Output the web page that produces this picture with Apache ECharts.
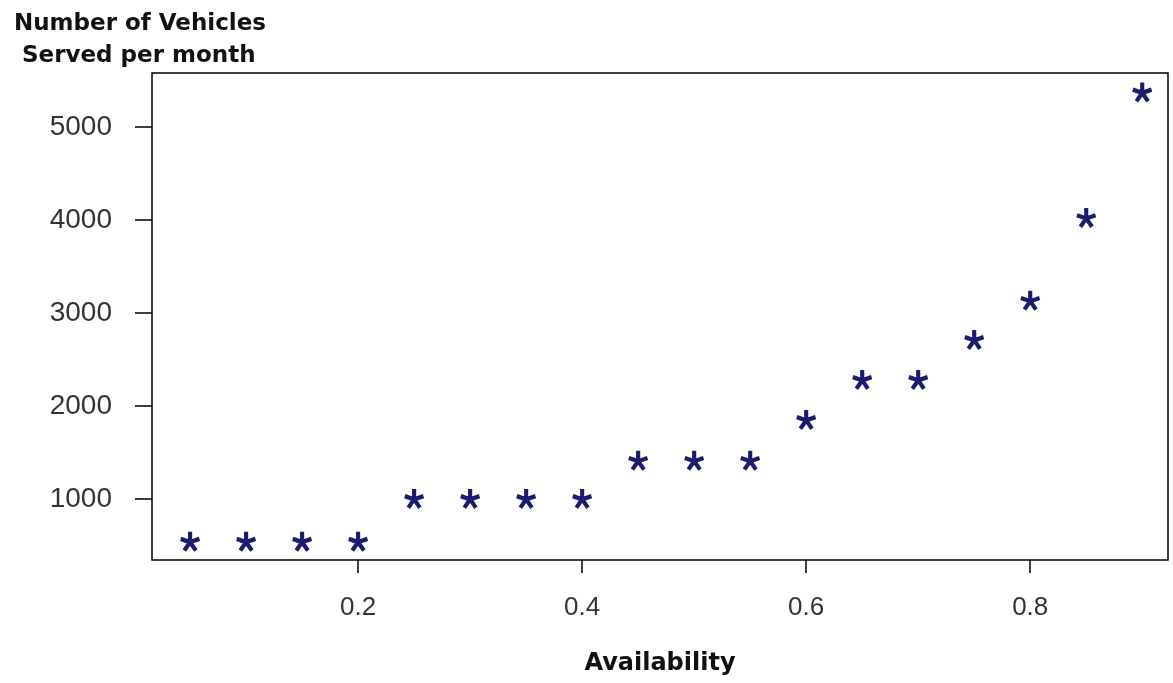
<!DOCTYPE html>
<html>
<head>
<meta charset="utf-8">
<script src="https://cdn.jsdelivr.net/npm/echarts@6/dist/echarts.min.js"></script>
<style>
  html, body { margin: 0; padding: 0; background: #fff; }
  #main { width: 1173px; height: 683px; }
</style>
</head>
<body>
<div id="main"></div>
<script>
// availability values and vehicles served per month
var availability = [0.05, 0.10, 0.15, 0.20, 0.25, 0.30, 0.35, 0.40, 0.45, 0.50, 0.55, 0.60, 0.65, 0.70, 0.75, 0.80, 0.85, 0.90];
var vehicles = [540, 540, 540, 540, 1000, 1000, 1000, 1000, 1410, 1410, 1410, 1850, 2280, 2280, 2710, 3130, 4020, 5370];
var xTicks = [0.2, 0.4, 0.6, 0.8];
var yTicks = [1000, 2000, 3000, 4000, 5000];

// five-armed asterisk used as marker
function asteriskPath() {
    var w = 2.1, L = 10, s = '';
    for (var k = 0; k < 5; k++) {
        var a = (-90 + k * 72) * Math.PI / 180;
        var c = Math.cos(a), sn = Math.sin(a);
        var px = -sn * w, py = c * w;
        var pts = [
            [px, py], [px + c * L, py + sn * L],
            [-px + c * L, -py + sn * L], [-px, -py]
        ];
        s += 'M' + pts.map(function (p) { return (p[0] + 10).toFixed(2) + ' ' + (p[1] + 10).toFixed(2); }).join(' L') + ' Z ';
    }
    return 'path://' + s;
}

var chart = echarts.init(document.getElementById('main'));
var data = availability.map(function (x, i) { return [x, vehicles[i]]; });

chart.setOption({
    animation: false,
    textStyle: { fontFamily: 'Liberation Sans, Arial, sans-serif' },
    title: {
        text: 'Number of Vehicles\n Served per month',
        left: 9, top: 3,
        textStyle: { fontSize: 23, fontWeight: 'bold', color: '#111', lineHeight: 32, fontFamily: 'DejaVu Sans' }
    },
    grid: {
        left: 152, right: 5, top: 73, bottom: 123,
        outerBoundsMode: 'none',
        show: true, borderColor: '#000', borderWidth: 1.5, backgroundColor: 'transparent'
    },
    xAxis: {
        type: 'value',
        min: 0.016, max: 0.923,
        name: 'Availability',
        nameLocation: 'middle',
        nameGap: 92,
        nameTextStyle: { fontSize: 24, fontWeight: 'bold', color: '#111', fontFamily: 'DejaVu Sans' },
        axisLine: { show: false },
        splitLine: { show: false },
        axisTick: { show: true, length: 13, customValues: xTicks, lineStyle: { color: '#000', width: 1.5 } },
        axisLabel: { customValues: xTicks, fontSize: 26, color: '#333', margin: 35,
            formatter: function (v) { return v.toFixed(1); } }
    },
    yAxis: {
        type: 'value',
        min: 344, max: 5580,
        axisLine: { show: false },
        splitLine: { show: false },
        axisTick: { show: true, length: 17, customValues: yTicks, lineStyle: { color: '#000', width: 1.5 } },
        axisLabel: { customValues: yTicks, fontSize: 28, color: '#333', margin: 40,
            formatter: function (v) { return String(v); } }
    },
    series: [{
        type: 'scatter',
        data: data,
        symbol: asteriskPath(),
        symbolSize: 20,
        itemStyle: { color: '#1c1c6e', opacity: 1 }
    }]
});
</script>
</body>
</html>
